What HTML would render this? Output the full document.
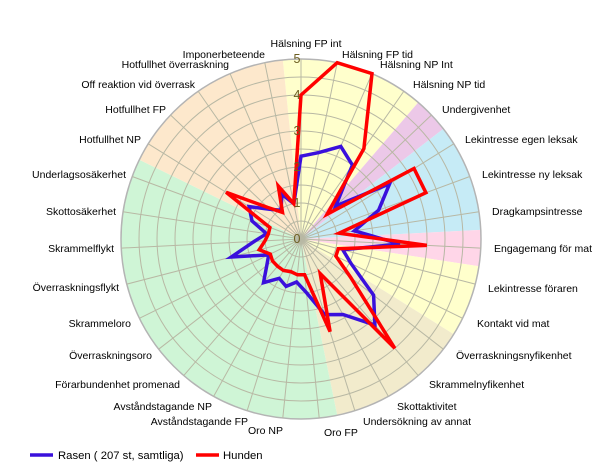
<!DOCTYPE html>
<html><head><meta charset="utf-8">
<style>
html,body{margin:0;padding:0;background:#fff;}
svg{display:block;font-family:"Liberation Sans",Arial,sans-serif;}
</style></head>
<body>
<svg id="chart" width="601" height="472" viewBox="0 0 601 472">
<g id="sectors"></g>
<g id="grid"></g>
<g id="series"></g>
<g id="ticks"></g>
<g id="labels" font-size="10.5" fill="#000"></g>
<g>
  <line x1="30" y1="455" x2="53" y2="455" stroke="#3a10dc" stroke-width="3.5"/>
  <text x="58" y="459" font-size="11.3">Rasen ( 207 st, samtliga)</text>
  <line x1="196" y1="455" x2="219" y2="455" stroke="#ff0000" stroke-width="3.5"/>
  <text x="223" y="459" font-size="11.3">Hunden</text>
</g>
</svg>
<script>
const categories = ["Hälsning FP int","Hälsning FP tid","Hälsning NP Int","Hälsning NP tid","Undergivenhet","Lekintresse egen leksak","Lekintresse ny leksak","Dragkampsintresse","Engagemang för mat","Lekintresse föraren","Kontakt vid mat","Överraskningsnyfikenhet","Skrammelnyfikenhet","Skottaktivitet","Undersökning av annat","Oro FP","Oro NP","Avståndstagande FP","Avståndstagande NP","Förarbundenhet promenad","Överraskningsoro","Skrammeloro","Överraskningsflykt","Skrammelflykt","Skottosäkerhet","Underlagsosäkerhet","Hotfullhet NP","Hotfullhet FP","Off reaktion vid överrask","Hotfullhet överraskning","Imponerbeteende"];
const rasenValues = [2.3,2.45,2.8,2.5,1.33,2.9,2.3,1.5,2.75,1.2,1.55,2.55,3.15,2.4,2.2,1.5,1.2,1.38,1.25,1.6,1.2,1.0,2.0,1.3,0.97,1.45,1.7,1.2,0.97,1.35,1.0];
const hundenValues = [4.0,5.0,5.0,3.06,1.0,3.7,3.7,1.07,3.5,1.07,1.08,1.75,4.0,1.1,2.7,1.0,1.0,0.95,1.0,1.0,1.0,0.95,1.2,1.0,0.92,0.92,2.45,1.27,0.9,1.6,1.0];
const tickLabels = ["0","1","2","3","4","5"];
const sectorGroups = [[0,3,"#ffffcc"],[4,4,"#ecc8e8"],[5,7,"#c6ebf6"],[8,8,"#ffd6e8"],[9,10,"#ffffcc"],[11,14,"#f2ebcc"],[15,25,"#cff5d6"],[26,30,"#fde8cc"]];
const labelPos = [[306,47,"middle"],[342,58,"start"],[380,68,"start"],[413,88,"start"],[442,113,"start"],[465,143,"start"],[482,178,"start"],[492,215,"start"],[494,252,"start"],[488,292,"start"],[477,327,"start"],[456,359,"start"],[429,388,"start"],[397,410,"start"],[363,425,"start"],[324,436,"start"],[283,434,"end"],[248,425,"end"],[212,410,"end"],[180,388,"end"],[152,359,"end"],[131,327,"end"],[119,291,"end"],[114,252,"end"],[116,215,"end"],[126,178,"end"],[141,143,"end"],[166,113,"end"],[195,88,"end"],[229,68,"end"],[265,58,"end"]];

const NS="http://www.w3.org/2000/svg";
const cx=301, cy=239, R=180, maxV=5, N=categories.length, step=2*Math.PI/N;
function rScale(v){return v/maxV*R;}
function angle(i){return i*step;}
function pt(i,v){const a=angle(i),r=rScale(v);return [cx+r*Math.sin(a), cy-r*Math.cos(a)];}
function mk(tag,attrs,parent){const e=document.createElementNS(NS,tag);for(const k in attrs)e.setAttribute(k,attrs[k]);parent.appendChild(e);return e;}

const sec=document.getElementById('sectors');
sectorGroups.forEach(g=>{
  const a0=angle(g[0])-step/2, a1=angle(g[1])+step/2;
  const x0=cx+R*Math.sin(a0), y0=cy-R*Math.cos(a0), x1=cx+R*Math.sin(a1), y1=cy-R*Math.cos(a1);
  const large=(a1-a0)>Math.PI?1:0;
  const p=mk('path',{d:`M${cx},${cy} L${x0},${y0} A${R},${R} 0 ${large} 1 ${x1},${y1} Z`,fill:g[2]},sec);
  
  
});

const grid=document.getElementById('grid');
for(let k=1;k<=10;k++){
  const c=mk('circle',{cx:cx,cy:cy,r:rScale(k*0.5),fill:'none',stroke:k===10?'#b4b4b4':'#b8b8a4','stroke-width':k===10?1.5:1},grid);
  
  
}
for(let i=0;i<N;i++){
  const p=pt(i,maxV);
  const l=mk('line',{x1:cx,y1:cy,x2:p[0],y2:p[1],stroke:'#b8b8a4','stroke-width':1},grid);
  
  
}

const ser=document.getElementById('series');
function drawSeries(vals,color,name){
  const pts=vals.map((v,i)=>pt(i,v).map(n=>n.toFixed(1)).join(',')).join(' ');
  const p=mk('polygon',{points:pts,fill:'none',stroke:color,'stroke-width':3.5,'stroke-linejoin':'miter','stroke-miterlimit':4},ser);
  
  
}
drawSeries(rasenValues,'#3a10dc','series-rasen');
drawSeries(hundenValues,'#ff0000','series-hunden');

const tk=document.getElementById('ticks');
tickLabels.forEach((t,k)=>{
  const e=mk('text',{x:cx-4,y:cy-rScale(k)+4,'text-anchor':'middle','font-size':12.5,fill:'#6b5d20'},tk);
  e.textContent=t;
  
  
});

const lb=document.getElementById('labels');
categories.forEach((c,i)=>{
  const lp=labelPos[i];
  const e=mk('text',{x:lp[0],y:lp[1],'text-anchor':lp[2]},lb);
  e.textContent=c;
  
  
});
</script>
</body></html>
